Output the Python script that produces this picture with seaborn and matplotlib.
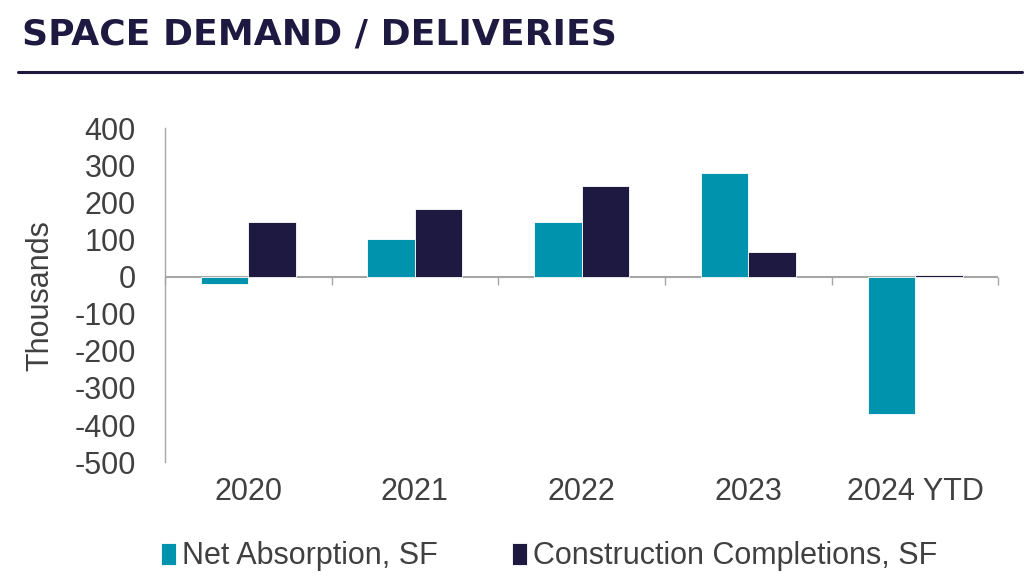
import numpy as np
import pandas as pd
import matplotlib
matplotlib.use("Agg")
import matplotlib.pyplot as plt
import seaborn as sns

years = ["2020", "2021", "2022", "2023", "2024 YTD"]
net_absorption = [-20, 100, 146, 280, -370]
completions = [148, 183, 243, 65, 3]
series_names = ["Net Absorption, SF", "Construction Completions, SF"]
y_ticks = [400, 300, 200, 100, 0, -100, -200, -300, -400, -500]

TEAL = "#0093AD"
NAVY = "#1E1941"
TEXT = "#404040"
GRID = "#A6A6A6"
FS = 22

sns.set_theme(style="white")
plt.rcParams["font.family"] = ["Liberation Sans", "DejaVu Sans"]

df = pd.DataFrame({
    "year": years * 2,
    "value": net_absorption + completions,
    "series": [series_names[0]] * len(years) + [series_names[1]] * len(years),
})

fig = plt.figure(figsize=(10.24, 5.77), dpi=100)
ax = fig.add_axes([0.161, 0.199, 0.814, 0.579])

sns.barplot(data=df, x="year", y="value", hue="series", ax=ax,
            palette=[TEAL, NAVY], width=0.57, edgecolor="white",
            linewidth=0.6, saturation=1)

ax.set_ylim(-500, 400)
ax.set_xlim(-0.5, len(years) - 0.5)
ax.set_yticks(y_ticks)
ax.set_yticklabels([str(t) for t in y_ticks])
ax.tick_params(axis="y", labelsize=FS, labelcolor=TEXT, length=5, width=1,
               direction="out", pad=16, color=GRID)
ax.tick_params(axis="x", labelsize=FS, labelcolor=TEXT, length=0, pad=11)
ax.set_xlabel("")
ax.set_ylabel("Thousands", fontsize=FS, color=TEXT)
ax.yaxis.set_label_coords(-0.131, 0.5)

for s in ["top", "right", "bottom"]:
    ax.spines[s].set_visible(False)
ax.spines["left"].set_color(GRID)
ax.spines["left"].set_linewidth(1)

# category axis crossing at zero, with ticks between categories
ax.axhline(0, color=GRID, linewidth=1.5, zorder=0.5)
zero_axis = ax.secondary_xaxis(500 / 900)
zero_axis.set_xticks(np.arange(len(years) + 1) - 0.5)
zero_axis.xaxis.set_ticks_position("bottom")
zero_axis.tick_params(axis="x", direction="out", length=6, width=1,
                      color=GRID, labelbottom=False, labeltop=False)
for s in zero_axis.spines.values():
    s.set_visible(False)

leg = ax.legend(loc="upper center", bbox_to_anchor=(0.461, -0.155), ncol=2,
                frameon=False, fontsize=FS, handlelength=0.5,
                handleheight=0.75, handletextpad=0.2, columnspacing=2.4)
for t in leg.get_texts():
    t.set_color(TEXT)

fig.text(0.021, 0.94, "SPACE DEMAND / DELIVERIES", fontsize=26,
         fontweight="bold", family=["DejaVu Sans"], color=NAVY,
         va="center", ha="left")
fig.add_artist(plt.Line2D([0.018, 0.998], [0.875, 0.875],
                          color=NAVY, linewidth=2.2))

fig.savefig("out.png", dpi=100)
